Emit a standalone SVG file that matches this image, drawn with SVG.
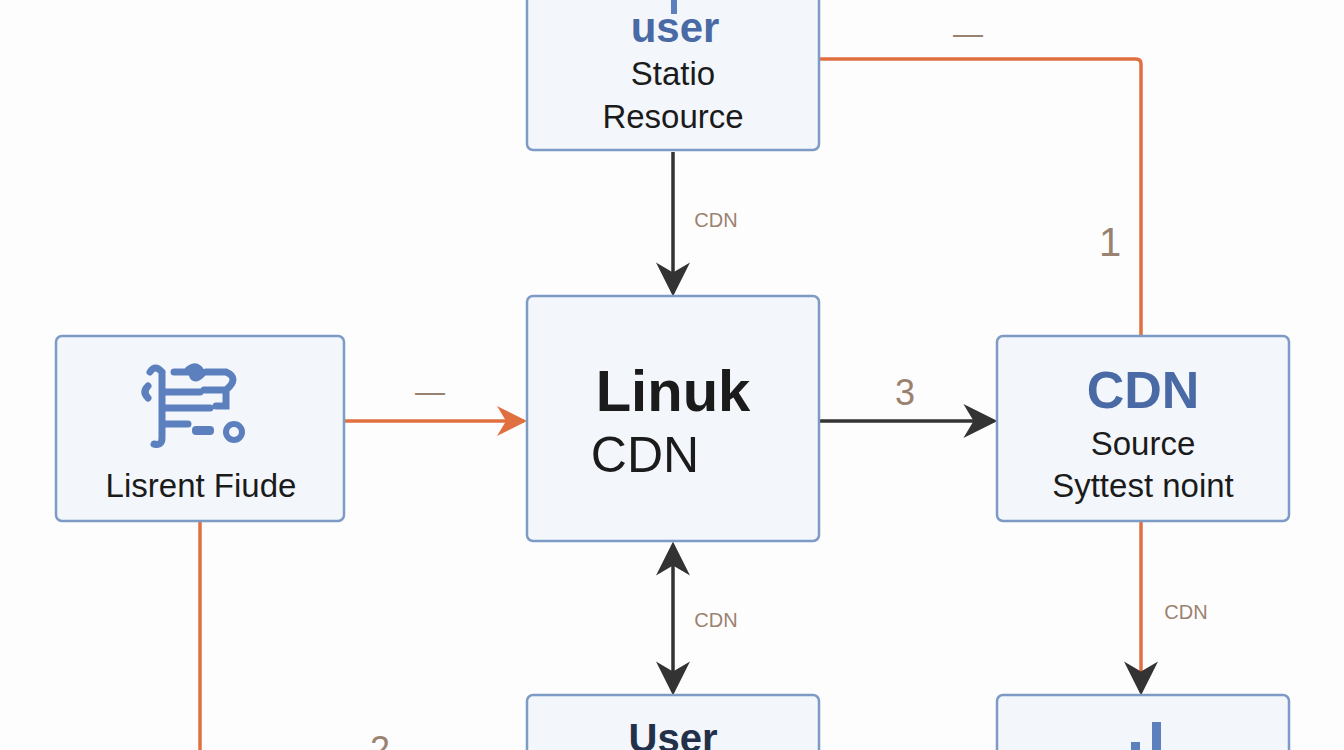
<svg xmlns="http://www.w3.org/2000/svg" width="1344" height="750" viewBox="0 0 1344 750">
<style>
.box{fill:#f3f7fc;stroke:#7e9bc6;stroke-width:2.5}
.t{font-family:"Liberation Sans",Arial,sans-serif;text-anchor:middle;fill:#1b1b1b}
.lbl{font-family:"Liberation Sans",Arial,sans-serif;text-anchor:middle;fill:#9a8270}
.k{stroke:#333;stroke-width:3.5;fill:none}
.o{stroke:#e07040;stroke-width:3.5;fill:none}
.ic{stroke:#5b80bd;stroke-width:7;fill:none;stroke-linecap:round}
</style>
<defs>
<marker id="ak" markerWidth="10" markerHeight="10" refX="9" refY="5" orient="auto-start-reverse" markerUnits="userSpaceOnUse" viewBox="0 0 10 10"><path d="M0,0 L10,5 L0,10 L3,5z" fill="#333"/></marker>
<marker id="ao" viewBox="0 0 10 10" refX="9" refY="5" markerWidth="30" markerHeight="30" orient="auto" markerUnits="userSpaceOnUse"><path d="M0,0 L10,5 L0,10 L3,5z" fill="#e07040"/></marker>
<marker id="ak2" viewBox="0 0 10 10" refX="9" refY="5" markerWidth="34" markerHeight="34" orient="auto-start-reverse" markerUnits="userSpaceOnUse"><path d="M0,0 L10,5 L0,10 L3,5z" fill="#333"/></marker>
<marker id="ad" viewBox="0 0 10 10" refX="9" refY="5" markerWidth="34" markerHeight="34" orient="auto" markerUnits="userSpaceOnUse"><path d="M0,0 L10,5 L0,10 L3,5z" fill="#333"/></marker>
</defs>
<rect width="1344" height="750" fill="#fdfdfd"/>
<g id="connectors">
<path class="k" d="M673,152 V293" marker-end="url(#ak2)"/>
<text class="lbl" x="716" y="227" font-size="20">CDN</text>
<path class="o" d="M344,421 H524" marker-end="url(#ao)"/>
<text class="lbl" x="430" y="402" font-size="30">—</text>
<path class="k" d="M819,421 H994" marker-end="url(#ak2)"/>
<text class="lbl" x="905" y="405" font-size="36">3</text>
<path class="o" d="M819,59 H1136 Q1141,59 1141,64 V336"/>
<text class="lbl" x="968" y="44" font-size="30">—</text>
<text class="lbl" x="1110" y="256" font-size="40">1</text>
<path class="k" d="M673,545 V692" marker-start="url(#ak2)" marker-end="url(#ak2)"/>
<text class="lbl" x="716" y="627" font-size="20">CDN</text>
<path class="o" d="M1141,521 V692" marker-end="url(#ad)"/>
<text class="lbl" x="1186" y="619" font-size="20">CDN</text>
<path class="o" d="M200,521 V750"/>
<text class="lbl" x="380" y="762" font-size="36">2</text>
</g>
<g id="static">
<rect class="box" x="527" y="-12" width="292" height="162" rx="6"/>
<rect x="671" y="-2" width="6" height="16" fill="#5b80bd"/>
<text class="t" x="675" y="42" font-size="42" font-weight="bold" fill="#4a6aa5" style="fill:#4a6aa5">user</text>
<text class="t" x="673" y="85" font-size="33">Statio</text>
<text class="t" x="673" y="128" font-size="33">Resource</text>
</g>
<g id="center">
<rect class="box" x="527" y="296" width="292" height="245" rx="6"/>
<text class="t" x="673" y="411" font-size="58" font-weight="bold">Linuk</text>
<text class="t" x="645" y="472" font-size="50">CDN</text>
</g>
<g id="left">
<rect class="box" x="56" y="336" width="288" height="185" rx="6"/>
<path class="ic" d="M150,372 q5,-8 12,0 M162,372 V438 q0,8 -8,6 M148,386 q-6,6 0,12 M162,392 H200 M174,372 H200 M188,370 q10,-8 14,4 q-8,8 -10,0 M206,372 H226 q14,6 0,18 H204 M162,408 H210 M226,392 V406 H216 M162,424 H188"/>
<rect x="192" y="426" width="22" height="9" rx="4" fill="#5b80bd"/>
<circle cx="234" cy="432" r="8" fill="none" stroke="#5b80bd" stroke-width="6"/>
<circle cx="178" cy="424" r="3" fill="#5b80bd"/>
<text class="t" x="201" y="497" font-size="33">Lisrent Fiude</text>
</g>
<g id="right">
<rect class="box" x="997" y="336" width="292" height="185" rx="6"/>
<text class="t" x="1143" y="408" font-size="52" font-weight="bold" style="fill:#4a6aa5">CDN</text>
<text class="t" x="1143" y="455" font-size="33">Source</text>
<text class="t" x="1143" y="497" font-size="33">Syttest noint</text>
</g>
<g id="user">
<rect class="box" x="527" y="695" width="292" height="80" rx="6"/>
<text class="t" x="673" y="752" font-size="40" font-weight="bold" style="fill:#22304a">User</text>
</g>
<g id="bottomright">
<rect class="box" x="997" y="695" width="292" height="80" rx="6"/>
<rect x="1152" y="722" width="9" height="30" fill="#5b80bd"/>
<rect x="1131" y="742" width="9" height="10" fill="#5b80bd"/>
</g>
</svg>
